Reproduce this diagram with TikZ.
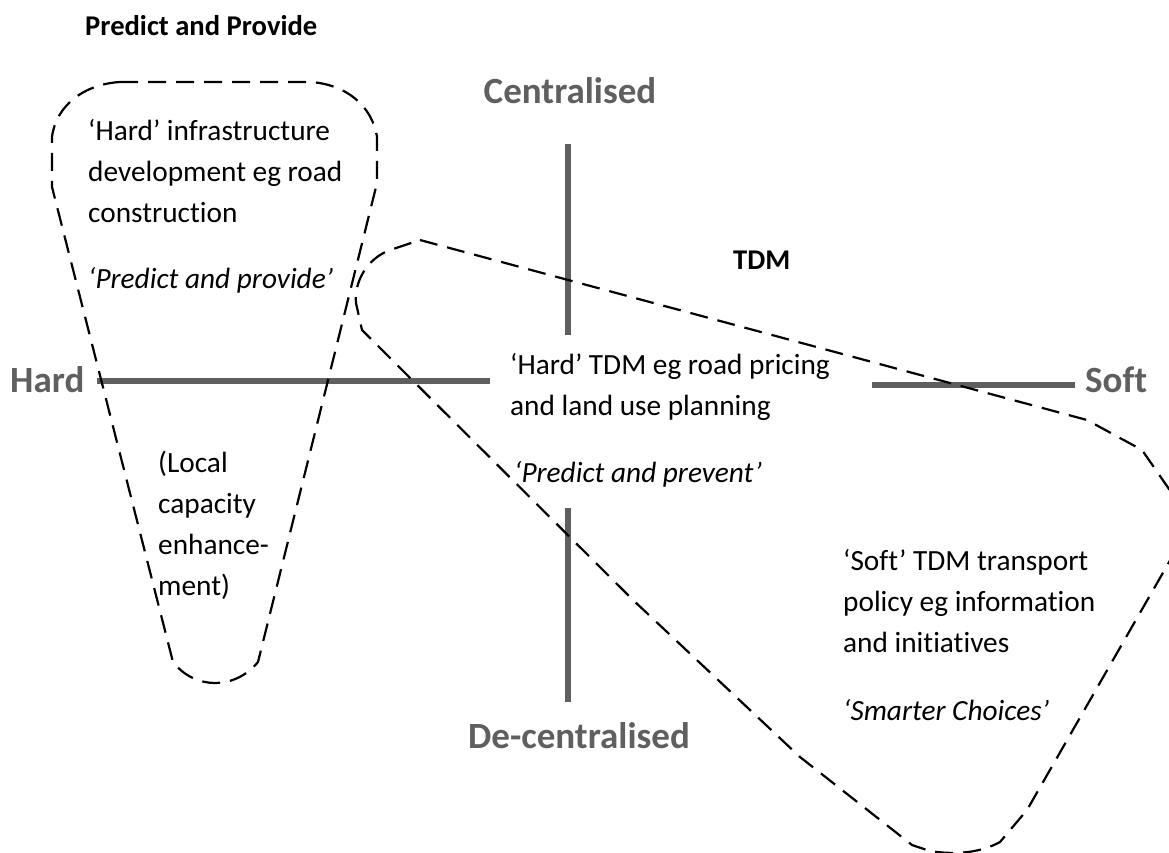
\documentclass[tikz,border=0pt]{standalone}
\usepackage{fontspec}
\setmainfont{Carlito}[Ligatures={NoCommon,NoContextual,NoRare}]
\definecolor{axisgray}{RGB}{95,95,95}
\tikzset{
  shapeline/.style={draw=black, line width=2.2pt, dash pattern=on 18pt off 10pt, line join=round},
  axisline/.style={draw=axisgray, line width=5.5pt},
  axislabel/.style={font=\fontsize{37}{44}\selectfont\bfseries, text=axisgray, inner sep=0},
  heading/.style={font=\fontsize{28.6}{34}\selectfont\bfseries, inner sep=0, anchor=base west},
  body/.style={font=\fontsize{29.3}{41}\selectfont, inner sep=0, anchor=base west},
  bodyit/.style={font=\fontsize{29.3}{41}\selectfont\itshape, inner sep=0, anchor=base west},
}
\newcommand\textlines[1]{\begin{tabular}[t]{@{}l@{}}#1\end{tabular}}
\begin{document}
\begin{tikzpicture}[x=1pt,y=-1pt]
\useasboundingbox (0,0) rectangle (1169,852);

% axes
\coordinate (cTop) at (568,144);
\coordinate (cMidA) at (568,335);
\coordinate (dMidA) at (568,508);
\coordinate (dBot) at (568,702);
\coordinate (hL) at (97,381);
\coordinate (hR) at (490,381);
\coordinate (sL) at (872,385);
\coordinate (sR) at (1075,385);
\draw[axisline] (cTop) -- (cMidA);
\draw[axisline] (dMidA) -- (dBot);
\draw[axisline] (hL) -- (hR);
\draw[axisline] (sL) -- (sR);

\node[axislabel, anchor=base west] (hard) at (10,392) {Hard};
\node[axislabel, anchor=base west] (soft) at (1085,392) {Soft};
\node[axislabel, anchor=base] (central) at (570,103) {Centralised};
\node[axislabel, anchor=base] (decentral) at (579,748) {De-centralised};

% dashed outlines
\begin{scope}
\clip (0,0) rectangle (1169,852);
\draw[shapeline] (120,82) -- (310,82) .. controls (345,84) and (372,105) .. (377,137)
  -- (377,183) -- (258,662) .. controls (235,690) and (195,690) .. (173,662)
  -- (52,187) -- (52,137) .. controls (56,105) and (85,84) .. (120,82) -- cycle;
\draw[shapeline] (420,240) -- (1087,420) -- (1142,450) -- (1178,502)
  .. controls (1190,520) and (1190,532) .. (1180,543)
  -- (1027,810) -- (1000,842) .. controls (980,853) and (955,855) .. (930,851)
  -- (912,845) -- (800,757) -- (633,600) -- (362,330) -- (356,303)
  .. controls (354,283) and (366,259) .. (390,250) -- cycle;
\end{scope}

% texts
\node[heading] (pp) at (85,35) {Predict and Provide};
\node[heading] (tdm) at (733,269) {TDM};

\node[body] (hardinfra) at (88,140) {\textlines{‘Hard’ infrastructure\\development eg road\\construction}};
\node[bodyit] (ppi) at (88,288) {‘Predict and provide’};
\node[body] (local) at (158,472) {\textlines{(Local\\capacity\\enhance-\\ment)}};
\node[body] (hardtdm) at (510,374) {\textlines{‘Hard’ TDM eg road pricing\\and land use planning}};
\node[bodyit] (ppv) at (514,482) {‘Predict and prevent’};
\node[body] (softtdm) at (843,570) {\textlines{‘Soft’ TDM transport\\policy eg information\\and initiatives}};
\node[bodyit] (smart) at (843,720) {‘Smarter Choices’};
\end{tikzpicture}
\end{document}
